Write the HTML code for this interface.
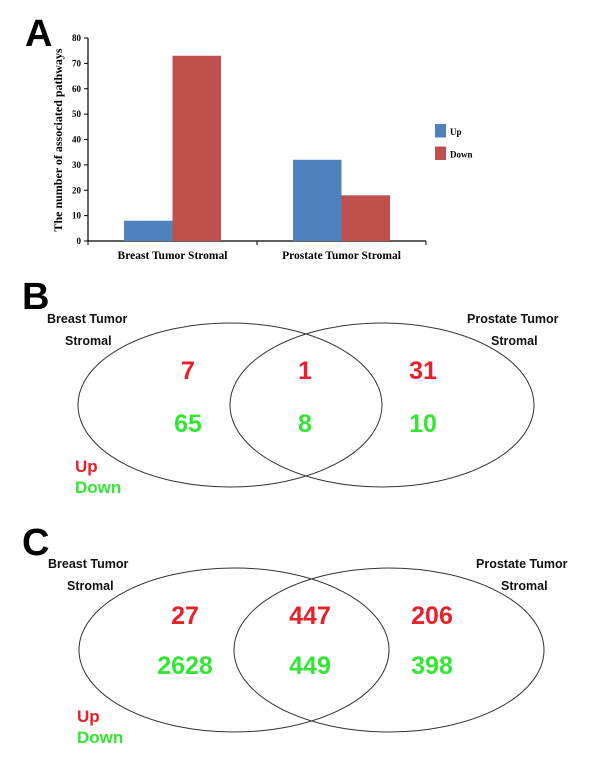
<!DOCTYPE html>
<html><head><meta charset="utf-8"><style>
html,body{margin:0;padding:0;background:#fff;}
svg{display:block;}
.ser{font-family:"Liberation Serif",serif;font-weight:bold;}
.san{font-family:"Liberation Sans",sans-serif;font-weight:bold;}
</style></head><body>
<svg id="fig" width="600" height="765" viewBox="0 0 600 765" xmlns="http://www.w3.org/2000/svg">
<text class="san" x="25" y="46" font-size="38">A</text>
<g id="chart"></g>
<text class="san" x="22" y="309" font-size="38">B</text>
<g id="vennB"></g>
<text class="san" x="22" y="555" font-size="38">C</text>
<g id="vennC"></g>
</svg>
<script>
const categories = ["Breast Tumor Stromal", "Prostate Tumor Stromal"];
const upValues = [8, 32];
const downValues = [73, 18];
const yTicks = [0, 10, 20, 30, 40, 50, 60, 70, 80];
const seriesNames = ["Up", "Down"];
const vennBValues = [[7, 65], [1, 8], [31, 10]];
const vennCValues = [[27, 2628], [447, 449], [206, 398]];

const NS = "http://www.w3.org/2000/svg";
function mk(tag, attrs, parent, text) {
  const e = document.createElementNS(NS, tag);
  for (const k in attrs) e.setAttribute(k, attrs[k]);
  if (text !== undefined) e.textContent = text;
  parent.appendChild(e);
  return e;
}
const chart = document.getElementById('chart');
const X0 = 88, X1 = 426, Y0 = 241, Y80 = 38;
const yScale = v => Y0 - (v / 80) * (Y0 - Y80);
const groupW = (X1 - X0) / categories.length;
const barW = 48.5;
const colors = ["#4f81bd", "#c0504d"];

let ax = mk('line', {x1: X0, y1: Y80, x2: X0, y2: Y0, stroke: '#000', 'stroke-width': 1.2}, chart);


ax = mk('line', {x1: X0, y1: Y0, x2: X1, y2: Y0, stroke: '#000', 'stroke-width': 1.2}, chart);


yTicks.forEach(t => {
  const y = yScale(t);
  const tk = mk('line', {x1: X0 - 4, y1: y, x2: X0, y2: y, stroke: '#000'}, chart);
  
  
  const tl = mk('text', {x: X0 - 7, y: y + 3, 'font-size': 9, 'text-anchor': 'end', class: 'ser'}, chart, String(t));
  
  
});
for (let i = 0; i <= categories.length; i++) {
  const x = X0 + i * groupW;
  const tk = mk('line', {x1: x, y1: Y0, x2: x, y2: Y0 + 4, stroke: '#000'}, chart);
  
  
}
const yt = mk('text', {x: 0, y: 0, 'font-size': 12, 'text-anchor': 'middle', class: 'ser', transform: 'translate(62,140) rotate(-90)'}, chart, 'The number of associated pathways');



categories.forEach((c, i) => {
  const cx = X0 + groupW * (i + 0.5);
  const b1 = mk('rect', {x: cx - barW, y: yScale(upValues[i]), width: barW, height: Y0 - yScale(upValues[i]), fill: colors[0]}, chart);
  
  
  const b2 = mk('rect', {x: cx, y: yScale(downValues[i]), width: barW, height: Y0 - yScale(downValues[i]), fill: colors[1]}, chart);
  
  
  const cl = mk('text', {x: cx, y: 259, 'font-size': 11.5, 'text-anchor': 'middle', class: 'ser'}, chart, c);
  
  
});
seriesNames.forEach((s, i) => {
  const y = 124 + i * 22.5;
  const sw = mk('rect', {x: 435, y: y, width: 11, height: 13.5, fill: colors[i]}, chart);
  
  
  const lt = mk('text', {x: 450, y: y + 11, 'font-size': 9, class: 'ser'}, chart, s);
  
  
});

function venn(g, cfg, vals) {
  const e1 = mk('ellipse', {cx: cfg.c1, cy: cfg.cy, rx: cfg.rx, ry: 82, fill: 'none', stroke: '#333', 'stroke-width': 1}, g);
  
  
  const e2 = mk('ellipse', {cx: cfg.c2, cy: cfg.cy, rx: cfg.rx, ry: 82, fill: 'none', stroke: '#333', 'stroke-width': 1}, g);
  
  
  const labels = [[cfg.lx1, cfg.ly1, 'Breast Tumor'], [cfg.lx1 + cfg.so1, cfg.ly1 + 22, 'Stromal'],
                  [cfg.lx2, cfg.ly1, cfg.ptext], [cfg.lx2 + cfg.so2, cfg.ly1 + 22, 'Stromal']];
  labels.forEach(l => {
    const t = mk('text', {x: l[0], y: l[1], 'font-size': 12.5, class: 'san', fill: '#111'}, g, l[2]);
    
    
  });
  vals.forEach((v, i) => {
    const x = cfg.nx[i];
    const t1 = mk('text', {x: x, y: cfg.ny1, 'font-size': 25, 'text-anchor': 'middle', class: 'san', fill: '#e8202a'}, g, String(v[0]));
    
    
    const t2 = mk('text', {x: x, y: cfg.ny2, 'font-size': 25, 'text-anchor': 'middle', class: 'san', fill: '#33e633'}, g, String(v[1]));
    
    
  });
  const u = mk('text', {x: cfg.ux, y: cfg.uy, 'font-size': 17, class: 'san', fill: '#e8202a'}, g, 'Up');
  
  
  const d = mk('text', {x: cfg.ux, y: cfg.uy + 21, 'font-size': 17, class: 'san', fill: '#33e633'}, g, 'Down');
  
  
}
venn(document.getElementById('vennB'), {c1: 230, c2: 382, cy: 405, rx: 152, lx1: 47, so1: 18, lx2: 467, so2: 24, ly1: 323, ptext: 'Prostate Tumor',
  nx: [188, 305, 423], ny1: 379, ny2: 432, ux: 75, uy: 472}, vennBValues);
venn(document.getElementById('vennC'), {c1: 234, c2: 389, cy: 650, rx: 155, lx1: 48, so1: 19, lx2: 476, so2: 25, ly1: 568, ptext: 'Prostate Tumor',
  nx: [185, 310, 432], ny1: 624, ny2: 674, ux: 77, uy: 722}, vennCValues);
</script>
</body></html>
